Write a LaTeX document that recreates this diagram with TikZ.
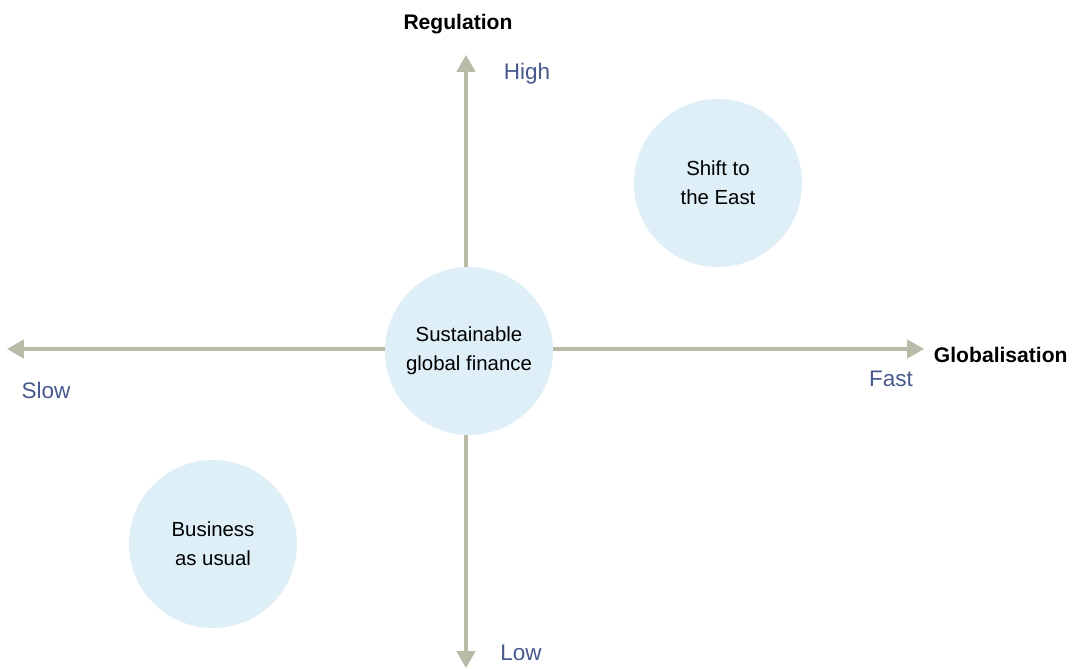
\documentclass[tikz,border=0pt]{standalone}
\usepackage{fontspec}
\setmainfont{Liberation Sans}
\usetikzlibrary{positioning, arrows.meta}
\definecolor{axisgrey}{RGB}{186,186,168}
\definecolor{bubble}{RGB}{222,239,247}
\definecolor{endblue}{RGB}{72,88,140}
\begin{document}
\begin{tikzpicture}[
    x=0.025cm, y=-0.025cm,
    axis/.style={draw=axisgrey, line width=2.2pt, -{Triangle[length=4.2mm, width=4.6mm]}},
    bubble/.style={circle, fill=bubble, minimum size=4.2cm, inner sep=0pt, align=center,
      font=\fontsize{14.5}{20.5}\selectfont},
    axislabel/.style={font=\fontsize{15}{18}\selectfont\bfseries},
    endlabel/.style={text=endblue, font=\fontsize{16}{19}\selectfont}
  ]
    \useasboundingbox (0,0) rectangle (1074,669);
    % Achsenenden
    \coordinate (top) at (466,55);
    \coordinate (bottom) at (466,668);
    \coordinate (left) at (7,349);
    \coordinate (right) at (924,349);
    \coordinate (origin) at (466,349);
    % Achsen
    \draw[axis] (origin) -- (top);
    \draw[axis] (origin) -- (bottom);
    \draw[axis] (origin) -- (left);
    \draw[axis] (origin) -- (right);
    % Szenarien
    \node[bubble] (centre) at (469,351) {Sustainable\\global finance};
    \node[bubble] (east) at (718,183) {Shift to\\the East};
    \node[bubble] (usual) at (213,544) {Business\\as usual};
    % Achsentitel
    \node[axislabel] (regulation) at (458,24) {Regulation};
    \node[axislabel, right] (globalisation) at (929,355) {Globalisation};
    % Achsenenden beschriftet
    \node[endlabel] (high) at (527,74) {High};
    \node[endlabel] (low) at (521,653) {Low};
    \node[endlabel] (slow) at (46,390) {Slow};
    \node[endlabel] (fast) at (891,379) {Fast};
  \end{tikzpicture}
\end{document}
